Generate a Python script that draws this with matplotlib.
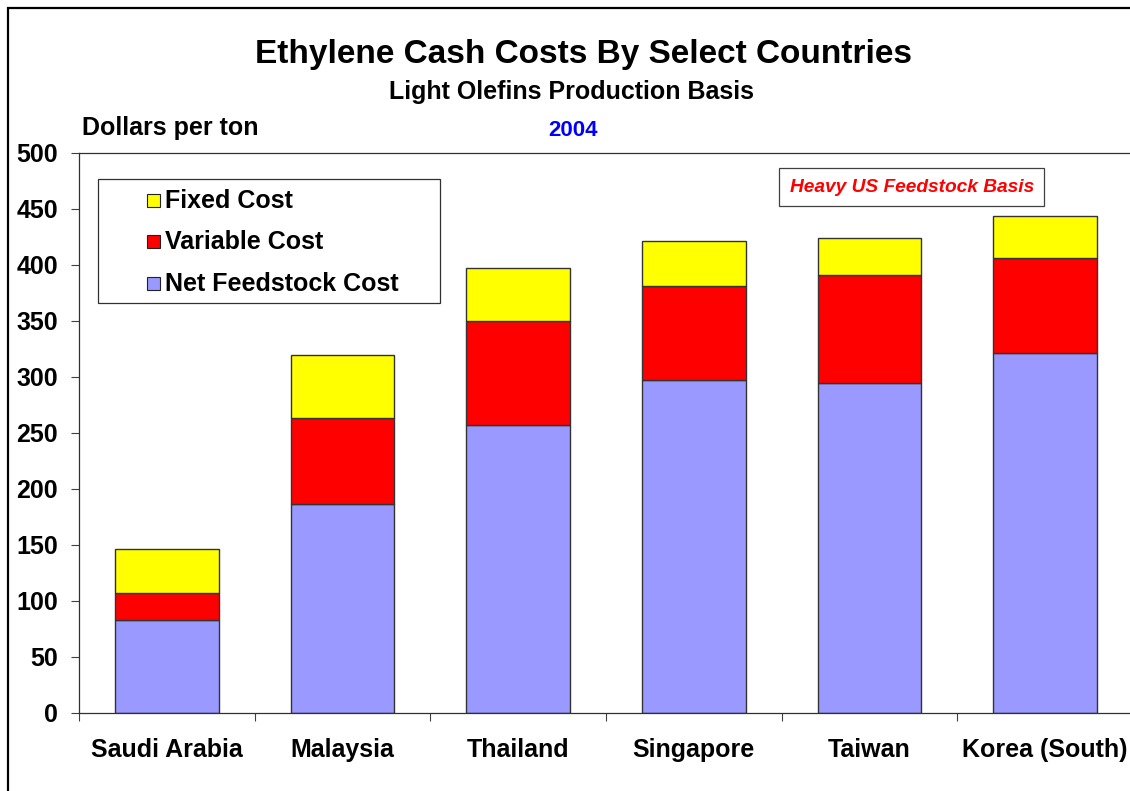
import matplotlib.pyplot as plt
from matplotlib.patches import Rectangle

plt.rcParams['font.family'] = ['Liberation Sans', 'DejaVu Sans']
plt.rcParams['font.weight'] = 'bold'

countries = ['Saudi Arabia', 'Malaysia', 'Thailand', 'Singapore', 'Taiwan', 'Korea (South)']
net_feedstock = [83, 187, 257, 297, 295, 321]
variable_cost = [24, 76, 93, 84, 96, 85]
fixed_cost = [39, 57, 47, 40, 33, 38]

series_labels = ['Fixed Cost', 'Variable Cost', 'Net Feedstock Cost']
series_colors = ['#FFFF00', '#FF0000', '#9999FF']

fig = plt.figure(figsize=(11.3, 7.91), dpi=100)
ax = fig.add_axes([79 / 1130, 78 / 791, 1054 / 1130, 560 / 791])

x = list(range(len(countries)))
w = 0.59
edge = dict(edgecolor='#333333', linewidth=1.0)
ax.bar(x, net_feedstock, w, color=series_colors[2], **edge)
ax.bar(x, variable_cost, w, bottom=net_feedstock, color=series_colors[1], **edge)
tops = [a + b for a, b in zip(net_feedstock, variable_cost)]
ax.bar(x, fixed_cost, w, bottom=tops, color=series_colors[0], **edge)

ax.set_xlim(-0.5, len(countries) - 0.5)
ax.set_ylim(0, 500)
ax.set_yticks(range(0, 501, 50))
ax.set_xticks(x)
ax.set_xticklabels(countries)
ax.set_xticks([i - 0.5 for i in range(len(countries) + 1)], minor=True)
ax.tick_params(axis='x', which='major', length=0, pad=18, labelsize=18)
ax.tick_params(axis='x', which='minor', length=6, width=0.8, color='#404040')
ax.tick_params(axis='y', length=6, width=0.8, color='#404040', pad=9, labelsize=18)
for lbl in ax.get_xticklabels() + ax.get_yticklabels():
    lbl.set_fontweight('bold')
for side in ['left', 'top', 'bottom', 'right']:
    ax.spines[side].set_color('#303030')
    ax.spines[side].set_linewidth(0.9)

# legend drawn by hand to get the wide left padding
ax.add_patch(Rectangle((0.018, 0.732), 0.3245, 0.2216, transform=ax.transAxes,
                       facecolor='white', edgecolor='#303030', linewidth=0.9, zorder=5))
rows_y = [0.914, 0.841, 0.766]
for lab, col, yy in zip(series_labels, series_colors, rows_y):
    ax.add_patch(Rectangle((0.0645, yy - 0.011), 0.0124, 0.0232, transform=ax.transAxes,
                           facecolor=col, edgecolor='#222222', linewidth=0.8, zorder=6))
    ax.text(0.0816, yy, lab, transform=ax.transAxes, fontsize=18, fontweight='bold',
            va='center', ha='left', zorder=6)

ax.text(0.79, 0.939, 'Heavy US Feedstock Basis', transform=ax.transAxes,
        fontsize=13.8, fontweight='bold', fontstyle='italic', color='#FF0000',
        ha='center', va='center',
        bbox=dict(boxstyle='square,pad=0.55', facecolor='white', edgecolor='#404040', linewidth=0.9))

fig.text(0.516, 1 - 54 / 791, 'Ethylene Cash Costs By Select Countries',
         fontsize=24, fontweight='bold', ha='center', va='center')
fig.text(0.506, 1 - 92 / 791, 'Light Olefins Production Basis',
         fontsize=18, fontweight='bold', ha='center', va='center')
fig.text(82 / 1130, 1 - 128 / 791, 'Dollars per ton',
         fontsize=18, fontweight='bold', ha='left', va='center')
fig.text(573 / 1130, 1 - 130 / 791, '2004', color='#0000FF',
         fontsize=16, fontweight='bold', ha='center', va='center')

fig.patches.append(Rectangle((8 / 1130, -0.05), 1.1, 1.05 - 8 / 791, transform=fig.transFigure,
                             fill=False, edgecolor='black', linewidth=1.6))

fig.savefig('out.png', dpi=100)
